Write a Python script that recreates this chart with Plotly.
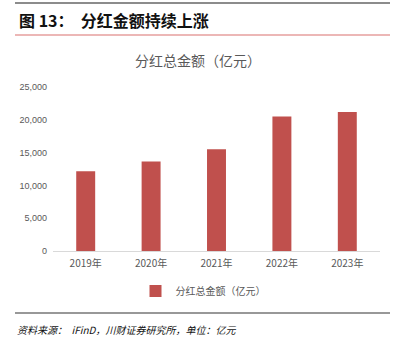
import plotly.graph_objects as go

years = ["2019年", "2020年", "2021年", "2022年", "2023年"]
dividends = [12150, 13650, 15500, 20500, 21200]
series_name = "分红总金额（亿元）"
y_ticks = [0, 5000, 10000, 15000, 20000, 25000]
y_tick_labels = ["0", "5,000", "10,000", "15,000", "20,000", "25,000"]

W, H = 400, 351
L, R, T, B = 53, 380, 87, 251

def px(x):
    return (x - L) / (R - L)

def py(y):
    return (B - y) / (B - T)

fig = go.Figure()
fig.add_trace(go.Bar(
    x=years, y=dividends, name=series_name,
    marker=dict(color="#C0504D", line=dict(width=0)),
    width=0.29,
))

fig.update_layout(
    width=W, height=H,
    margin=dict(l=L, r=W - R, t=T, b=H - B),
    paper_bgcolor="white", plot_bgcolor="white",
    font=dict(family="Noto Sans CJK SC, sans-serif", color="#595959"),
    showlegend=True,
    legend=dict(orientation="h", x=px(203), xanchor="center", y=py(291), yanchor="middle",
                font=dict(size=10, color="#595959"), itemwidth=30),
    xaxis=dict(showgrid=False, showline=True, linecolor="#D9D9D9", linewidth=1,
               ticks="", tickfont=dict(size=10, color="#595959", family="Liberation Sans Narrow, Noto Sans CJK SC"),
               ticklabelstandoff=3, fixedrange=True),
    yaxis=dict(range=[0, 25000], tickvals=y_ticks, ticktext=y_tick_labels,
               showgrid=False, zeroline=False, showline=False, ticks="",
               tickfont=dict(size=9, color="#595959", family="Liberation Sans Narrow, sans-serif"),
               ticklabelstandoff=5, fixedrange=True),
    shapes=[
        dict(type="line", xref="paper", yref="paper", x0=px(15), x1=px(390), y0=py(3), y1=py(3),
             line=dict(color="#8C8C8C", width=2)),
        dict(type="line", xref="paper", yref="paper", x0=px(15), x1=px(390), y0=py(35), y1=py(35),
             line=dict(color="#D9706E", width=1.2)),
        dict(type="line", xref="paper", yref="paper", x0=px(15), x1=px(390), y0=py(313), y1=py(313),
             line=dict(color="#333333", width=1.2)),
    ],
    annotations=[
        dict(text="<b>图 13：  分红金额持续上涨</b>", xref="paper", yref="paper",
             x=px(17), y=py(20), xanchor="left", yanchor="middle", showarrow=False,
             font=dict(size=16, color="#111111", family="Noto Sans CJK SC")),
        dict(text="分红总金额（亿元）", xref="paper", yref="paper",
             x=px(198), y=py(60), xanchor="center", yanchor="middle", showarrow=False,
             font=dict(size=14, color="#595959", family="Noto Sans CJK SC")),
        dict(text="<i>资料来源：  iFinD，川财证券研究所，单位：亿元</i>", xref="paper", yref="paper",
             x=px(15), y=py(329), xanchor="left", yanchor="middle", showarrow=False,
             font=dict(size=10, color="#111111", family="Noto Sans CJK SC")),
    ],
)

fig.write_html("out.html")
